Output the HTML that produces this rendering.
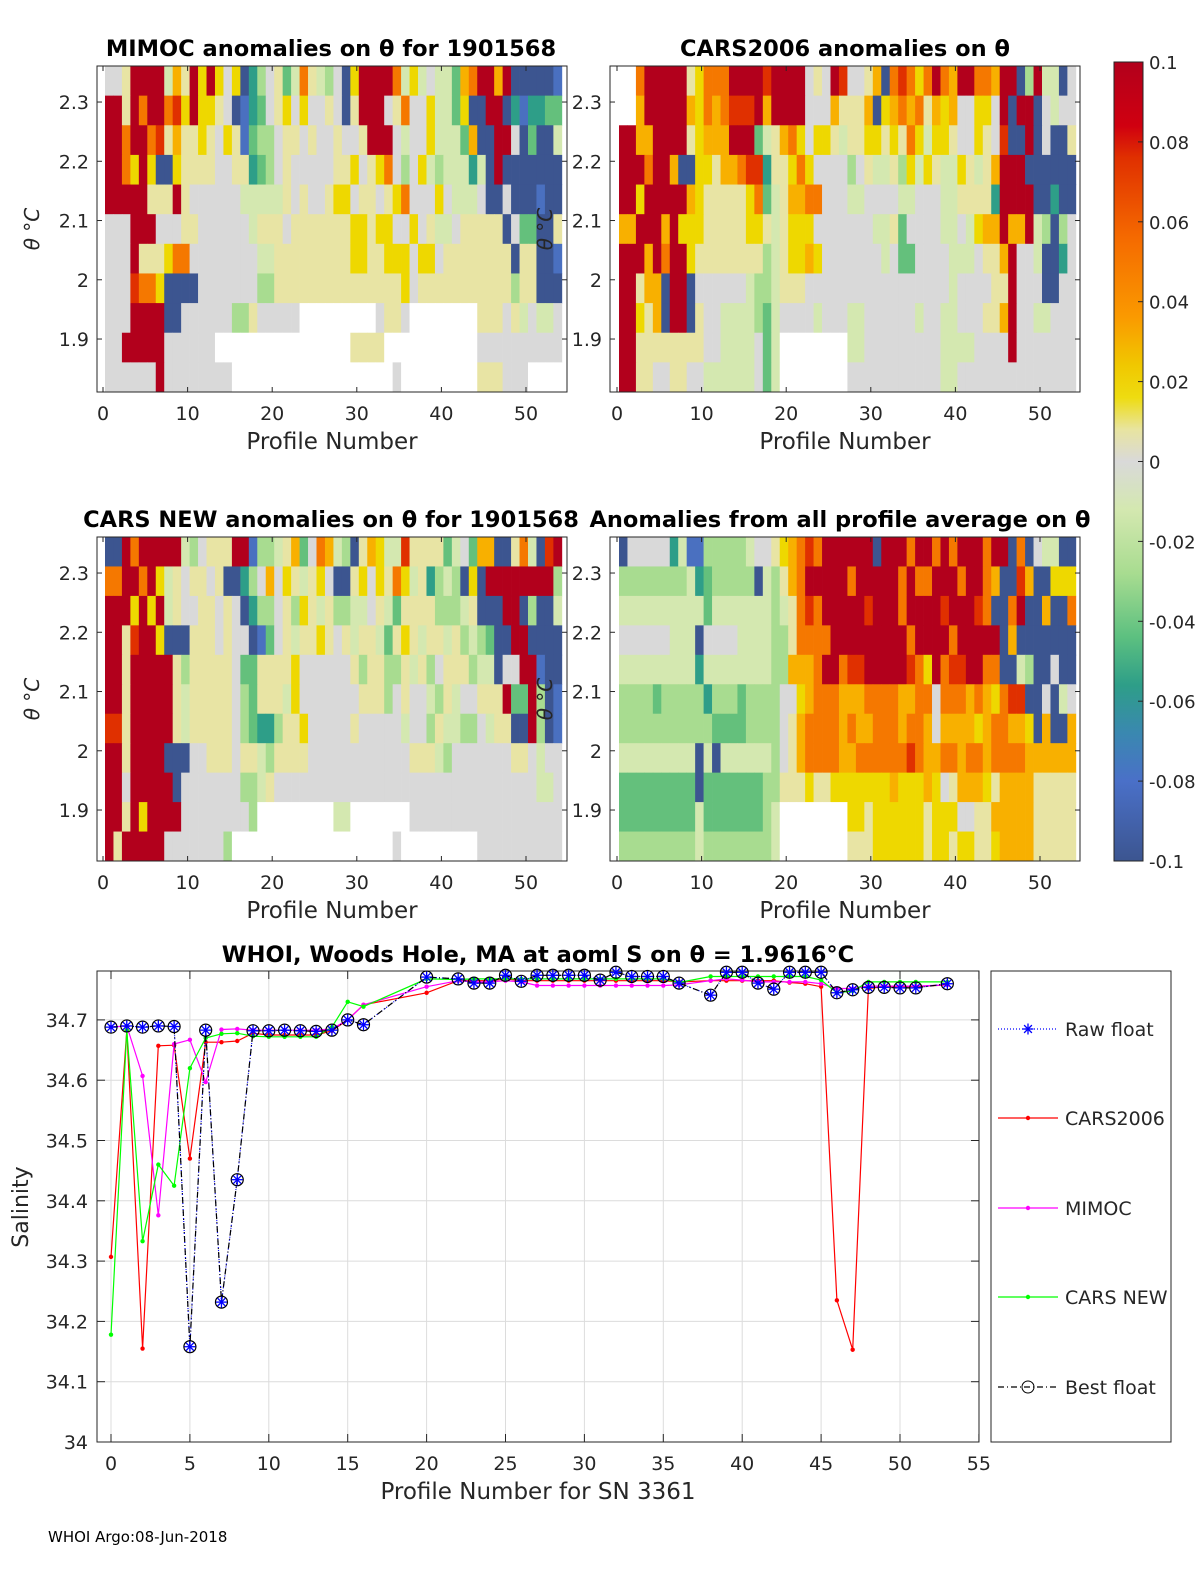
<!DOCTYPE html>
<html><head><meta charset="utf-8">
<style>
html,body{margin:0;padding:0;background:#fff;}
svg{display:block;font-family:"DejaVu Sans","Liberation Sans",sans-serif;}
</style></head>
<body>
<svg id="fig" width="1200" height="1575" viewBox="0 0 1200 1575" xmlns="http://www.w3.org/2000/svg">
<defs>
<linearGradient id="cbgrad" x1="0" y1="0" x2="0" y2="1">
<stop offset="0" stop-color="#b2001c"/>
<stop offset="0.08" stop-color="#d00010"/>
<stop offset="0.12" stop-color="#e03000"/>
<stop offset="0.22" stop-color="#f56a00"/>
<stop offset="0.32" stop-color="#fa9a00"/>
<stop offset="0.38" stop-color="#f0c800"/>
<stop offset="0.42" stop-color="#eedc10"/>
<stop offset="0.46" stop-color="#e8e4a0"/>
<stop offset="0.5" stop-color="#d9d9d9"/>
<stop offset="0.56" stop-color="#d4e8b0"/>
<stop offset="0.64" stop-color="#a8dc90"/>
<stop offset="0.72" stop-color="#5cc080"/>
<stop offset="0.78" stop-color="#2e9e88"/>
<stop offset="0.84" stop-color="#3a88b0"/>
<stop offset="0.9" stop-color="#4a70c8"/>
<stop offset="1" stop-color="#3c5590"/>
</linearGradient>
</defs>
<g id="layer"></g>
</svg>
<script>
// ---------------- heatmap data (codes per row, top row first; spread across profiles 0..53) ----------------
const heatCodesMimoc = [
"g l R R R R c a l R y R y g y B t e g l G c o l c e g B y R R R R o c y c g c c G a o R R a R B B B B B b",
"R l R o R R o r y R y y l g B b t G g l y g y g g l g B l R R R g l o g g y c c G y B B R R B t b t t G G",
"R o R R o r l a l l y l g y l b G e g l l g l g g l g g l R R R g c g y c c c G a B B R R g B G B B c",
"R o y R y B B y l l l l g l l t G e g l g g g g g l y g l y o g e g y c e c c t c B R B B B B B B B",
"R R R R l l R l g g g g g c c c c l g l g l y y g l g l y o g g y g c c g B B g B B b B B",
"g g R R g g g l g g g g g c l l g l l l l l l y l y y g y g l c g l l l l B g G B B l",
"g g R l l y o g g g g g g c c l l l l l l l y l l y y g y g l l l l l l B l B B b",
"g g r o y B B B g g g g g e e l l l l l l l l l l l y g l l l l l l l l e l B B B",
"g g R R R R B B g g g g g e e l g g g g w w w w w w w w g l l g w w w w w w w l l g l c g c c g",
"g g R R R R R g g g g g g w w w w w w w w w w w w w w w w l l l l w w w w w w w w w w w g g g g g g g g g g",
"g g g g g g R g g g g g g g g w w w w w w w w w w w w w w w w w w w g w w w w w w w w w l l l g g g w w w w"
];
const heatCodesCars = [
"w o R R R R R l y o o o R R R r R R R R g l g R r g l a B o r o y o R o a R o o a R R B e R c c B g",
"w a R R R R R a y o a o r r R a R R R R g g g a l l a B y a o a o l a y a g y y g R B R R B g c g g",
"R a a R R R R l y a a a R R G c l a o y g y y l c l y y l y l o y c y y l g y l g r B B R B g B B l",
"R R o R R a B y y l a a o r t l l y o y g g g e g l c l e y c y l c y l c l a R R B B B B B B",
"R y R R R R a y l l l l y o G c l a o o g g g c g g g g c g g g c c l l l t R R R B B t B B",
"a R R R a R y y l l l l l y l c l y y y g g g g g g c l G g g g g c g c y a a R a R c e B e g",
"R R a R o R y l l l l l l l e c l y a y g g g g g g c g G g g g g c c g l l a R g c B B t g",
"R l a a B R B g g g g g c e e c l l g g g g g g g g g g g g g g g c g g g l l R g g B B g g",
"R y l a B R B l g g c c c e G c g g g c g g g c g g g g g c g g c c g g l l a R g c c g g g",
"R l l l l l l l g g c c c g G c w w w w w w w c g g g g g g g g c c c g g g g R g g g g g g",
"R l l g g l g g c c c c c g G c w w w w w w w g g g g g g g g g c c g g g g g g g g g g g g"
];
const heatCodesCarsNew = [
"B R o R R R R R c e g l l l R R b e c l a G g o a c e B l a y c c r l l l G c g G a a B B l o c B r R",
"o R R o R y c l g l l g l B B t e g a g y l c l y g B l y g y l o y c l t e c e B y B R R R R R R R R e",
"R R y R y R c l g l l g l g B t e g l e y l c l e c c g l c G l l l e e e c l B B R R B e B B c",
"R l r R R y B B l l l g l g B b G g l c l y l g l c l c G l y l c l c l e c e G B R R B B B B",
"R l R R R R l e l l l l g G G l l l y g g g g g l e l l e l c l e g l l e c c B g R R b B B",
"R l R R R R l c l l l l g e G l l c y g g g g g g l l e g l g c e l c g l l l R G R e B b",
"r l R R R R l c l l l l g e G t e l l y g g g g l g g g g c g e l c c e g c l l B R e B b",
"R l R R R B B B g l l l g l c e l l l g g g g g g g g g g l l c e g g g g g g l g c g g",
"R g R R R R B g g g g g g e c l g g g g g g g g g g g g g g g g g g g g g g g g g c c g",
"R l R y R R R g g g g g g g e w w w w w w w w c w w w w w w g g g g g g g g g g g g g g g g",
"R l R R R R R g g g g g g g e w w w w w w w w w w w w w w w w w w w g w w w w w w w w w g g g g g g g g g g"
];
const heatCodesAvg = [
"B g g g g g t c b b e e e e e c g g l y a o r o R R R R R R B R R R o R R o R o R R R o R R B o B g c c B B l",
"e e e e e e e c t G e e e e e B c e l a o R R R R R o R R R R R o R o o R R R o R R o a B B r a B B y y y",
"c c c c c c c c c G c c c c c c e c l o r o R R R R r R R R o R R R R r R R r o B B o R B B a B B o",
"g g g g g c c c B g g g c c c c e e l o o o R R R R R R R R o R R R R o R R R R B a B B B B B B B",
"c c c c c c c c t c c c c c c c e e a a o R R o r r R R R R r o y R o r r R R o B B c e B B g B B",
"e e e G e e e e t e e e G e e e g g y a o o a a a o o o a a o o g o o a o a y o r B B g B c g",
"e e e e e e e e e G G G G e e e g l a o o o a o a a o o a o o a g a a a y a o o a y B a B B a",
"c c c c c c c B c B c c c c c e g l a o o o a a o o o o o r o a a o a o o a o o o a a a a a a",
"G G G G G G G B G G G G G G e e l l y l l y y y y y y a y y a y g l a a y l a a a l l l l l",
"G G G G G G G c G G G G G G e c w w w w w w w y l y y y y y l y y y g l l a a a a l l l l l",
"e e e e e e e c e e e e e e e c w w w w w w w l l y y y y y l y y l y l l y a a a l l l l l"
];
// ---------------- salinity line chart data ----------------
const profiles = [0,1,2,3,4,5,6,7,8,9,10,11,12,13,14,15,16,20,22,23,24,25,26,27,28,29,30,31,32,33,34,35,36,38,39,40,41,42,43,44,45,46,47,48,49,50,51,53];
const bestFloat = [34.688,34.690,34.688,34.690,34.689,34.158,34.683,34.232,34.435,34.682,34.682,34.683,34.682,34.681,34.683,34.700,34.692,34.771,34.768,34.761,34.761,34.774,34.764,34.774,34.774,34.774,34.774,34.766,34.779,34.772,34.772,34.772,34.761,34.741,34.779,34.779,34.761,34.751,34.779,34.779,34.779,34.745,34.750,34.754,34.754,34.753,34.753,34.760];
const rawFloat = bestFloat.slice();
const cars2006 = [34.307,34.683,34.155,34.657,34.658,34.470,34.663,34.663,34.665,34.678,34.675,34.675,34.675,34.675,34.682,34.700,34.725,34.745,34.765,34.765,34.765,34.768,34.765,34.765,34.765,34.765,34.765,34.765,34.765,34.765,34.765,34.765,34.763,34.765,34.765,34.765,34.765,34.765,34.762,34.760,34.755,34.235,34.153,34.752,34.755,34.755,34.755,34.758];
const mimoc = [34.688,34.690,34.607,34.376,34.660,34.667,34.597,34.684,34.685,34.683,34.683,34.683,34.683,34.683,34.685,34.700,34.725,34.755,34.765,34.763,34.763,34.765,34.763,34.757,34.757,34.757,34.757,34.757,34.757,34.757,34.757,34.757,34.758,34.765,34.768,34.766,34.763,34.763,34.763,34.763,34.760,34.752,34.752,34.756,34.756,34.756,34.756,34.758];
const carsNew = [34.178,34.683,34.333,34.460,34.425,34.620,34.670,34.677,34.678,34.673,34.672,34.672,34.672,34.672,34.688,34.730,34.722,34.768,34.767,34.768,34.768,34.768,34.768,34.768,34.768,34.768,34.768,34.768,34.768,34.768,34.768,34.768,34.762,34.772,34.772,34.772,34.772,34.772,34.772,34.772,34.766,34.745,34.748,34.763,34.763,34.763,34.763,34.763];
const xTicksLine = [0,5,10,15,20,25,30,35,40,45,50,55];
const yTicksLine = [34,34.1,34.2,34.3,34.4,34.5,34.6,34.7];
const heatXTicks = [0,10,20,30,40,50];
const heatYTicks = [2.3,2.2,2.1,2,1.9];
const cbTicks = [0.1,0.08,0.06,0.04,0.02,0,-0.02,-0.04,-0.06,-0.08,-0.1];
const cbLabels = ["0.1","0.08","0.06","0.04","0.02","0","-0.02","-0.04","-0.06","-0.08","-0.1"];

const COLORS = {R:"#b2001c",r:"#e03000",o:"#f57800",a:"#f8b000",y:"#eed800",l:"#e8e4a4",g:"#d9d9d9",c:"#d4e8b0",e:"#a8dc90",G:"#64c07c",t:"#2e9e88",b:"#4a70c0",B:"#3c5590",w:"#ffffff"};
const NS = "http://www.w3.org/2000/svg";
const layer = document.getElementById('layer');
function mk(tag, attrs, parent){
  const el = document.createElementNS(NS, tag);
  for (const k in attrs) el.setAttribute(k, attrs[k]);
  (parent||layer).appendChild(el);
  return el;
}
function txt(x,y,s,size,anchor,parent,weight){
  const t = mk('text',{x:x,y:y,'font-size':size,'text-anchor':anchor||'middle',fill:'#262626'},parent);
  if (weight) t.setAttribute('font-weight',weight);
  t.textContent = s;
  return t;
}

// ---------------- heatmap panels ----------------
function heatPanel(name, codes, box, title, titleX){
  const g = mk('g',{});
  
  
  const xs = p => box.x0 + p*8.46;
  const ys = v => box.top + (2.3608 - v)*592.5;
  const rowH = (box.bottom-box.top)/codes.length;
  codes.forEach((row, ri) => {
    const toks = row.trim().split(/\s+/);
    const n = toks.length;
    for (let k=0;k<54;k++){
      const c = toks[Math.min(n-1, Math.floor(k*n/54))] || 'g';
      const x = xs(k)+2;
      const w = Math.min(8.8, box.right - x);
      if (w<=0) continue;
      const rc = mk('rect',{x:x,y:box.top+ri*rowH,width:w,height:rowH+0.5,fill:COLORS[c]||COLORS.g},g);
      
      
    }
  });
  const fr = mk('rect',{x:box.left,y:box.top,width:box.right-box.left,height:box.bottom-box.top,fill:'none',stroke:'#262626','stroke-width':1},g);
  
  
  heatXTicks.forEach(t=>{
    const x = xs(t);
    mk('line',{x1:x,y1:box.bottom,x2:x,y2:box.bottom-5,stroke:'#262626'},g);
    mk('line',{x1:x,y1:box.top,x2:x,y2:box.top+5,stroke:'#262626'},g);
    const lb = txt(x, box.bottom+28, String(t), 19, 'middle', g);
    
    
  });
  heatYTicks.forEach(t=>{
    const y = ys(t);
    mk('line',{x1:box.left,y1:y,x2:box.left+5,y2:y,stroke:'#262626'},g);
    mk('line',{x1:box.right,y1:y,x2:box.right-5,y2:y,stroke:'#262626'},g);
    const lb = txt(box.left-8, y+7, String(t), 19, 'end', g);
    
    
  });
  const xl = txt((box.left+box.right)/2, box.bottom+57, 'Profile Number', 23, 'middle', g);
  
  
  const yl = txt(0,0,'θ °C',20,'middle',g);
  yl.setAttribute('transform','translate('+(box.left-58)+','+((box.top+box.bottom)/2)+') rotate(-90)');
  yl.setAttribute('font-style','italic');
  
  
  const tt = txt(titleX, box.top-10, title, 22.5, 'middle', g, 'bold');
  tt.setAttribute('fill','#000');
  
  
}
heatPanel('mimoc-heatmap', heatCodesMimoc, {left:97,right:567,top:66,bottom:392,x0:103}, 'MIMOC anomalies on θ  for 1901568', 331);
heatPanel('cars2006-heatmap', heatCodesCars, {left:610,right:1080,top:66,bottom:392,x0:617}, 'CARS2006 anomalies on θ', 845);
heatPanel('cars-new-heatmap', heatCodesCarsNew, {left:97,right:567,top:537,bottom:861,x0:103}, 'CARS NEW anomalies on θ for 1901568', 331);
heatPanel('profile-average-heatmap', heatCodesAvg, {left:610,right:1080,top:537,bottom:861,x0:617}, 'Anomalies from all profile average on θ', 840);

// ---------------- colorbar ----------------
(function(){
  const g = mk('g',{});
  
  
  const top=62, bot=861, L=1114, R=1143;
  mk('rect',{x:L,y:top,width:R-L,height:bot-top,fill:'url(#cbgrad)',stroke:'#262626'},g);
  cbTicks.forEach((v,i)=>{
    const y = top + (0.1 - v)/0.2*(bot-top);
    mk('line',{x1:R-5,y1:y,x2:R,y2:y,stroke:'#262626'},g);
    const lb = txt(R+6, y+7, cbLabels[i], 18, 'start', g);
    
    
  });
})();

// ---------------- salinity chart ----------------
(function(){
  const g = mk('g',{});
  
  
  const L=97, R=979, T=971, B=1442;
  const xs = p => 111 + p*15.78;
  const ys = v => 1442 - (v-34)*603;
  mk('rect',{x:L,y:T,width:R-L,height:B-T,fill:'#fff'},g);
  xTicksLine.forEach(t=>{
    const x = xs(t);
    mk('line',{x1:x,y1:T,x2:x,y2:B,stroke:'#dcdcdc'},g);
    mk('line',{x1:x,y1:B,x2:x,y2:B-8,stroke:'#262626'},g);
    mk('line',{x1:x,y1:T,x2:x,y2:T+8,stroke:'#262626'},g);
    const lb = txt(x, B+28, String(t), 19, 'middle', g);
    
    
  });
  yTicksLine.forEach(t=>{
    const y = ys(t);
    mk('line',{x1:L,y1:y,x2:R,y2:y,stroke:'#dcdcdc'},g);
    mk('line',{x1:L,y1:y,x2:L+8,y2:y,stroke:'#262626'},g);
    mk('line',{x1:R,y1:y,x2:R-8,y2:y,stroke:'#262626'},g);
    const lb = txt(L-9, y+7, t===34?'34':t.toFixed(1), 19, 'end', g);
    
    
  });
  mk('rect',{x:L,y:T,width:R-L,height:B-T,fill:'none',stroke:'#262626'},g);
  function series(name, vals, color, dash){
    const pts = profiles.map((p,i)=>xs(p).toFixed(1)+','+ys(vals[i]).toFixed(1)).join(' ');
    const pl = mk('polyline',{points:pts,fill:'none',stroke:color,'stroke-width':1.2},g);
    if (dash) pl.setAttribute('stroke-dasharray', dash);
    
    
    return pts;
  }
  function dots(name, vals, color){
    profiles.forEach((p,i)=>{
      const d = mk('circle',{cx:xs(p),cy:ys(vals[i]),r:2.2,fill:color},g);
      
      
    });
  }
  series('cars2006', cars2006, '#ff0000'); dots('cars2006', cars2006, '#ff0000');
  series('mimoc', mimoc, '#ff00ff'); dots('mimoc', mimoc, '#ff00ff');
  series('cars-new', carsNew, '#00ff00'); dots('cars-new', carsNew, '#00ff00');
  series('raw-float', rawFloat, '#0000ff', '1,2');
  series('best-float', bestFloat, '#000000', '6,3,1,3');
  function star(cx,cy,s,parent){
    for (let a=0;a<4;a++){
      const an = a*Math.PI/4;
      mk('line',{x1:cx-s*Math.cos(an),y1:cy-s*Math.sin(an),x2:cx+s*Math.cos(an),y2:cy+s*Math.sin(an),stroke:'#0000ff','stroke-width':1.3},parent);
    }
  }
  profiles.forEach((p,i)=>{
    const cx = xs(p), cy = ys(bestFloat[i]);
    const c = mk('circle',{cx:cx,cy:cy,r:6,fill:'none',stroke:'#000','stroke-width':1.2},g);
    
    
    star(xs(p), ys(rawFloat[i]), 5.5, g);
  });
  const tt = txt(538, 962, 'WHOI, Woods Hole, MA at aoml S on θ = 1.9616°C', 22.5, 'middle', g, 'bold');
  tt.setAttribute('fill','#000');
  
  
  const xl = txt(538, 1499, 'Profile Number for SN 3361', 23, 'middle', g);
  
  
  const yl = txt(0,0,'Salinity',22,'middle',g);
  yl.setAttribute('transform','translate(28,1207) rotate(-90)');
  
  

  // legend
  const lg = mk('g',{},g);
  
  
  mk('rect',{x:991,y:971,width:180,height:471,fill:'#fff',stroke:'#262626'},lg);
  const items = [
    ['Raw float','#0000ff','1,2',1029,'star'],
    ['CARS2006','#ff0000','',1118,'dot'],
    ['MIMOC','#ff00ff','',1208,'dot'],
    ['CARS NEW','#00ff00','',1297,'dot'],
    ['Best float','#000000','6,3,1,3',1387,'circle']
  ];
  items.forEach(it=>{
    const e = mk('g',{},lg);
    
    
    const ln = mk('line',{x1:998,y1:it[3],x2:1058,y2:it[3],stroke:it[1],'stroke-width':1.2},e);
    if (it[2]) ln.setAttribute('stroke-dasharray', it[2]);
    if (it[4]==='star') star(1028,it[3],5.5,e);
    if (it[4]==='dot') mk('circle',{cx:1028,cy:it[3],r:2.2,fill:it[1]},e);
    if (it[4]==='circle') mk('circle',{cx:1028,cy:it[3],r:6,fill:'none',stroke:'#000'},e);
    txt(1065, it[3]+7, it[0], 19, 'start', e);
  });
})();

const foot = txt(48, 1542, 'WHOI Argo:08-Jun-2018', 15, 'start');
foot.setAttribute('fill','#000');


</script>
</body></html>
